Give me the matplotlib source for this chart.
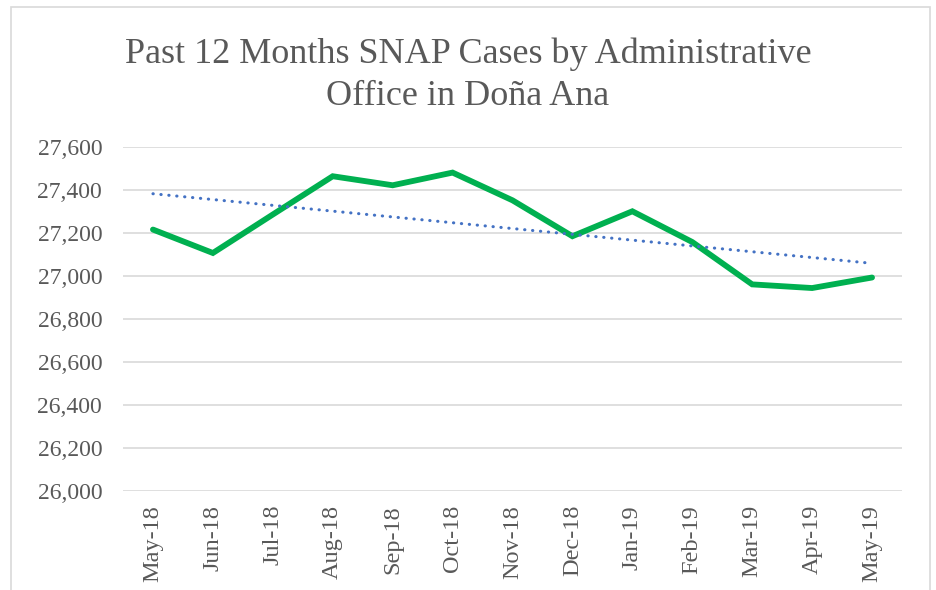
import matplotlib.pyplot as plt
import numpy as np
from matplotlib.patches import Rectangle

months = ["May-18", "Jun-18", "Jul-18", "Aug-18", "Sep-18", "Oct-18", "Nov-18",
          "Dec-18", "Jan-19", "Feb-19", "Mar-19", "Apr-19", "May-19"]
cases = [27216, 27107, 27286, 27464, 27422, 27481, 27352,
         27185, 27301, 27158, 26961, 26944, 26993]
y_ticks = [26000, 26200, 26400, 26600, 26800, 27000, 27200, 27400, 27600]

TEXT = "#595959"
GRID = "#D9D9D9"

plt.rcParams["font.family"] = ["Liberation Serif", "DejaVu Serif"]

fig = plt.figure(figsize=(9.36, 5.9), dpi=100)
W, H = 936, 590
ax = fig.add_axes([123 / W, 1 - 491 / H, (902 - 123) / W, (491 - 147) / H])

x = np.arange(len(months))
ax.plot(x, cases, color="#00B050", linewidth=4.2, solid_joinstyle="miter",
        solid_capstyle="round", zorder=3)

# linear trendline
slope, intercept = np.polyfit(x, cases, 1)
ax.plot(x, slope * x + intercept, color="#4472C4", linewidth=2.2,
        linestyle=(0, (0.1, 2.5)), dash_capstyle="round", zorder=4)

ax.set_xlim(-0.5, len(months) - 0.5)
ax.set_ylim(y_ticks[0], y_ticks[-1])
ax.set_yticks(y_ticks)
ax.set_yticklabels([f"{v:,}" for v in y_ticks])
ax.set_xticks(x)
ax.set_xticklabels(months, rotation=90)
ax.tick_params(length=0, labelsize=17, labelcolor=TEXT)
ax.tick_params(axis="y", pad=15)
ax.tick_params(axis="x", pad=10, labelsize=17.5)
ax.grid(True, axis="y", color=GRID, linewidth=1.2)
ax.set_axisbelow(True)
for s in ax.spines.values():
    s.set_visible(False)

fig.text(0.5, 1 - 63 / H, "Past 12 Months SNAP Cases by Administrative",
         ha="center", va="baseline", fontsize=26, color=TEXT)
fig.text(0.5, 1 - 105 / H, "Office in Doña Ana",
         ha="center", va="baseline", fontsize=26, color=TEXT)

fig.patches.append(Rectangle((11 / W, -0.05), (930 - 11) / W, 1.05 - 7 / H,
                             transform=fig.transFigure, fill=False,
                             edgecolor=GRID, linewidth=1.2))

fig.savefig("out.png", dpi=100)
